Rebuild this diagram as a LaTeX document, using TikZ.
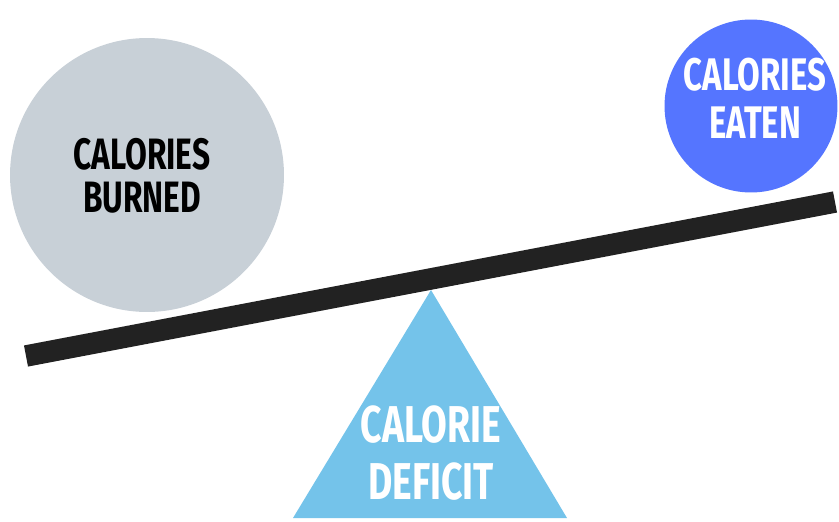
\documentclass[tikz,border=0pt]{standalone}
\usepackage{fontspec}
\setmainfont{Fira Sans}
\newfontfamily\signfont[FakeStretch=0.72]{Fira Sans}
\usetikzlibrary{shapes.geometric}
\definecolor{burnedgray}{HTML}{C8D0D7}
\definecolor{eatenblue}{HTML}{5575FF}
\definecolor{deficitblue}{HTML}{74C3EA}
\definecolor{beamblack}{HTML}{222222}
\tikzstyle{ball} = [circle, inner sep=0pt]
\tikzstyle{word} = [align=center, font=\signfont\bfseries\fontsize{25}{24.5}\selectfont]
\tikzstyle{beam} = [line width=0.43cm, draw=beamblack]

\begin{document}
\begin{tikzpicture}[x=0.02cm, y=-0.02cm]
		\useasboundingbox (0,0) rectangle (839,521);
		
		%Balls
		\node[ball, fill=burnedgray, minimum size=5.48cm] (burned) at (147,175) {};
		\node[ball, fill=eatenblue, minimum size=3.46cm] (eaten) at (751,106) {};
		
		%Fulcrum
		\coordinate (apex) at (431,290);
		\coordinate (base_l) at (293,518);
		\coordinate (base_r) at (567,518);
		\fill[deficitblue] (apex) -- (base_l) -- (base_r) -- cycle;
		
		%Beam
		\coordinate (beam_l) at (26,356);
		\coordinate (beam_r) at (835,202);
		\draw[beam] (beam_l) -- (beam_r);
		
		%Labels
		\node[word, text=black] (burned_txt) at (142,176) {CALORIES\\BURNED};
		\node[word, text=white, font=\signfont\bfseries\fontsize{26}{27.5}\selectfont] (eaten_txt) at (755,98) {CALORIES\\EATEN};
		\node[word, text=white, font=\signfont\bfseries\fontsize{29.5}{32.5}\selectfont] (deficit_txt) at (431,453) {CALORIE\\DEFICIT};
		
	\end{tikzpicture}
\end{document}
